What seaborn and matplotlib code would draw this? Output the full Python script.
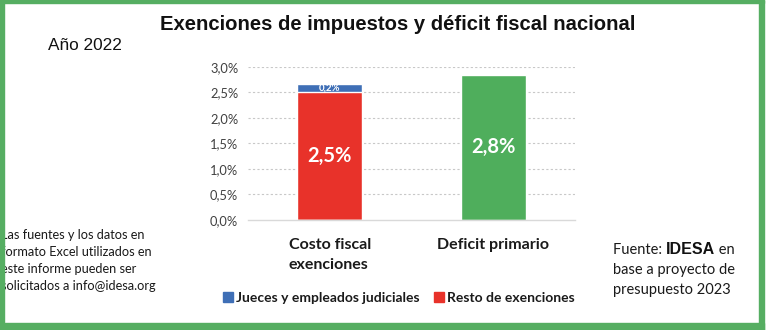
import matplotlib
matplotlib.use("Agg")
import matplotlib.pyplot as plt
import seaborn as sns
import pandas as pd
from matplotlib.patches import Rectangle
from matplotlib.lines import Line2D

# ---- data ----
categories = ["Costo fiscal\nexenciones", "Deficit primario"]
resto_exenciones = [2.5, 0.0]
jueces_judiciales = [0.17, 0.0]
deficit_primario = [0.0, 2.84]
yticks = [0.0, 0.5, 1.0, 1.5, 2.0, 2.5, 3.0]
title = "Exenciones de impuestos y déficit fiscal nacional"
subtitle = "Año 2022"
legend_labels = ["Jueces y empleados judiciales", "Resto de exenciones"]
note_left = ["Las fuentes y los datos en", "formato Excel utilizados en",
             "este informe pueden ser", "solicitados a info@idesa.org"]

BLUE = "#3F6FB6"
RED = "#E8322A"
GREEN = "#4FAE5C"
BORDER = "#56AE62"

sns.set_theme(style="white")
plt.rcParams['font.family'] = ['Lato', 'DejaVu Sans']

W, H = 768, 330
fig = plt.figure(figsize=(W / 100, H / 100), dpi=100)
fig.patch.set_facecolor("white")

ax = fig.add_axes([248 / W, 1 - 220 / H, (575 - 248) / W, (220 - 66.7) / H])

df = pd.DataFrame({
    "cat": categories,
    "top": [r + j for r, j in zip(resto_exenciones, jueces_judiciales)],
    "resto": resto_exenciones,
    "deficit": deficit_primario,
})

sns.barplot(data=df, x="cat", y="top", color=BLUE, width=0.4, ax=ax, saturation=1)
sns.barplot(data=df, x="cat", y="resto", color=RED, width=0.4, ax=ax, saturation=1)
sns.barplot(data=df, x="cat", y="deficit", color=GREEN, width=0.4, ax=ax, saturation=1)

ax.set_xlim(-0.5, 1.5)
ax.set_ylim(0, 3.0)
ax.set_yticks(yticks)
ax.set_yticklabels([f"{v:.1f}%".replace(".", ",") for v in yticks],
                   fontsize=9.3, color="#404040")
ax.set_xlabel("")
ax.set_ylabel("")
ax.tick_params(axis="y", length=0, pad=7)
ax.tick_params(axis="x", length=0, pad=13)
ax.set_xticks([0, 1])
ax.set_xticklabels(categories, fontsize=11.5, fontweight="bold", color="#1a1a1a",
                   linespacing=1.55, va="top", ha="center", multialignment="left")

for y in yticks[1:]:
    ax.axhline(y, color="#c8c8c8", lw=0.8, ls=(0, (2, 2)), zorder=0)
for s in ["left", "right", "top"]:
    ax.spines[s].set_visible(False)
ax.spines["bottom"].set_color("#d9d9d9")
ax.spines["bottom"].set_linewidth(1)

# value labels
ax.text(0, resto_exenciones[0] / 2, f"{resto_exenciones[0]:.1f}%".replace(".", ","),
        ha="center", va="center", color="white", fontsize=14.5, fontweight="bold")
ax.text(0, resto_exenciones[0] + jueces_judiciales[0] / 2,
        f"{jueces_judiciales[0]:.1f}%".replace(".", ","),
        ha="center", va="center", color="white", fontsize=7, fontweight="bold")
ax.text(1, deficit_primario[1] / 2, f"{deficit_primario[1]:.1f}%".replace(".", ","),
        ha="center", va="center", color="white", fontsize=14.5, fontweight="bold")

# legend
handles = [Line2D([], [], marker="s", ls="", color=BLUE, markersize=7),
           Line2D([], [], marker="s", ls="", color=RED, markersize=7)]
leg = fig.legend(handles, legend_labels, loc="center", ncol=2,
                 bbox_to_anchor=(398 / W, 1 - 298 / H), frameon=False,
                 prop={"family": "Lato", "weight": "bold", "size": 10},
                 handletextpad=0.1, columnspacing=0.9, handlelength=1.0)
for t in leg.get_texts():
    t.set_color("#1a1a1a")

# title & subtitle
fig.text(398 / W, 1 - 24 / H, title, ha="center", va="center",
         fontsize=14.6, fontweight="bold", family="Liberation Sans", color="#111111")
fig.text(48 / W, 1 - 46 / H, subtitle, ha="left", va="center",
         fontsize=12.4, family="Liberation Sans", color="#111111")

# left note
for i, line in enumerate(note_left):
    fig.text(1 / W, 1 - (235 + i * 17) / H, line, ha="left", va="center",
             fontsize=9.2, color="#1a1a1a")

# right note with mixed formatting
fig.canvas.draw()
r = fig.canvas.get_renderer()
x0 = 613
y1 = 1 - 250 / H
t1 = fig.text(x0 / W, y1, "Fuente: ", ha="left", va="center", fontsize=10.5, color="#1a1a1a")
w1 = t1.get_window_extent(r).width
t2 = fig.text((x0 + w1) / W, y1, "IDESA", ha="left", va="center", fontsize=11.5,
              fontweight="bold", family="Liberation Sans", color="#111111")
w2 = t2.get_window_extent(r).width
fig.text((x0 + w1 + w2) / W, y1, " en", ha="left", va="center", fontsize=10.5, color="#1a1a1a")
fig.text(x0 / W, 1 - 270 / H, "base a proyecto de", ha="left", va="center",
         fontsize=10.5, color="#1a1a1a")
fig.text(x0 / W, 1 - 290 / H, "presupuesto 2023", ha="left", va="center",
         fontsize=10.5, color="#1a1a1a")

# green border
def frect(x, y, w, h):
    fig.patches.append(Rectangle((x / W, 1 - (y + h) / H), w / W, h / H,
                                 transform=fig.transFigure, color=BORDER, zorder=10))
frect(0, 0, 764, 3)      # top
frect(0, 0, 4, 330)      # left
frect(759, 0, 5, 330)    # right
frect(0, 323, 764, 7)    # bottom

fig.savefig("out.png", dpi=100)
